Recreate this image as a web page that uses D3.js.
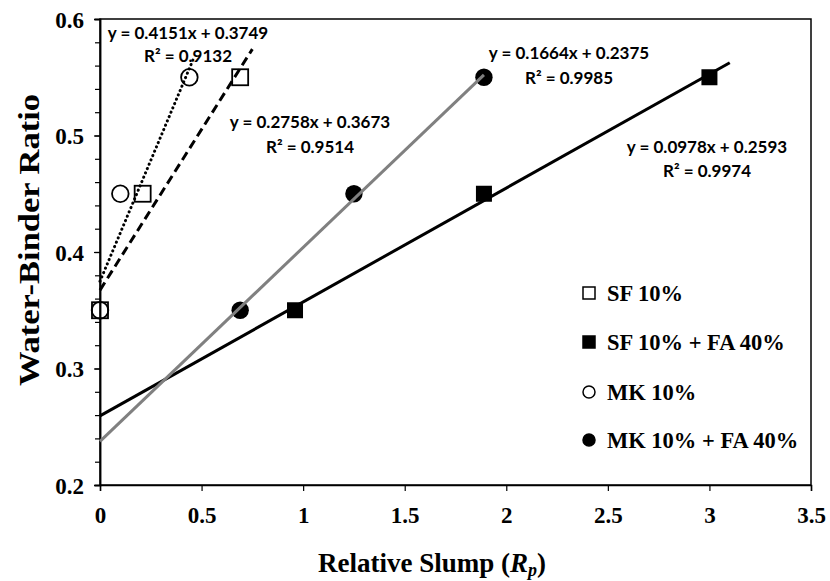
<!DOCTYPE html>
<html>
<head>
<meta charset="utf-8">
<script src="https://cdn.jsdelivr.net/npm/d3@7"></script>
<style>
  html, body { margin: 0; padding: 0; background: #fff; }
  svg { display: block; }
</style>
</head>
<body>
<svg id="chart" width="830" height="581"></svg>
<script>
// ---- data ----
const sfX = [0, 0.21, 0.69];
const sfY = [0.35, 0.45, 0.55];
const sfFaX = [0.96, 1.89, 3.0];
const sfFaY = [0.35, 0.45, 0.55];
const mkX = [0, 0.10, 0.44];
const mkY = [0.35, 0.45, 0.55];
const mkFaX = [0.69, 1.25, 1.89];
const mkFaY = [0.35, 0.45, 0.55];

// trendlines: [slope, intercept, xStart, xEnd]
const trendSF = [0.2758, 0.3673, 0, 0.75];
const trendMK = [0.4151, 0.3749, 0, 0.46];
const trendSFFA = [0.0978, 0.2593, 0, 3.1];
const trendMKFA = [0.1664, 0.2375, 0, 1.89];

const eqLabels = [
  ["y = 0.4151x + 0.3749", "R² = 0.9132"],
  ["y = 0.2758x + 0.3673", "R² = 0.9514"],
  ["y = 0.1664x + 0.2375", "R² = 0.9985"],
  ["y = 0.0978x + 0.2593", "R² = 0.9974"]
];
const legendLabels = ["SF 10%", "SF 10% + FA 40%", "MK 10%", "MK 10% + FA 40%"];
const xTicks = [0, 0.5, 1, 1.5, 2, 2.5, 3, 3.5];
const yTicks = [0.2, 0.3, 0.4, 0.5, 0.6];

// ---- layout ----
const svg = d3.select("#chart");
const L = 100, R = 811, T = 19, B = 485;
const x = d3.scaleLinear().domain([0, 3.5]).range([L, R]);
const y = d3.scaleLinear().domain([0.2, 0.6]).range([B, T]);
const serif = "'Liberation Serif', 'Times New Roman', serif";
const sans = "Lato, 'Liberation Sans', sans-serif";

// frame
svg.append("rect").attr("x", L).attr("y", T).attr("width", R - L).attr("height", B - T)
  .attr("fill", "none").attr("stroke", "#000").attr("stroke-width", 1.5);

// axes
const yAxis = d3.axisLeft(y).tickValues(yTicks).tickFormat(d3.format(".1f")).tickSize(6).tickPadding(10);
const yMinor = d3.axisLeft(y).tickValues(d3.range(0.2, 0.6001, 0.02)).tickFormat("").tickSize(5);
const xAxis = d3.axisBottom(x).tickValues(xTicks).tickFormat(d => d3.format("")(d)).tickSize(6).tickPadding(16);

const gyMinor = svg.append("g").attr("transform", `translate(${L},0)`).call(yMinor);
const gy = svg.append("g").attr("transform", `translate(${L},0)`).call(yAxis);
const gx = svg.append("g").attr("transform", `translate(0,${B})`).call(xAxis);
[gy, gx, gyMinor].forEach(g => {
  g.select(".domain").attr("stroke", "#000").attr("stroke-width", 1.5);
  g.selectAll(".tick line").attr("stroke", "#000").attr("stroke-width", 1.2);
  g.selectAll("text").attr("font-family", serif).attr("font-weight", "bold")
    .attr("font-size", 23).attr("fill", "#000");
});
gy.selectAll("text").attr("dy", "0.35em");

// axis titles
svg.append("text").attr("transform", `translate(29,240) rotate(-90) scale(1.15,1)`)
  .attr("text-anchor", "middle").attr("dominant-baseline", "central")
  .attr("font-family", serif).attr("font-weight", "bold").attr("font-size", 30)
  .text("Water-Binder Ratio");
const xt = svg.append("text").attr("x", 432).attr("y", 572)
  .attr("text-anchor", "middle")
  .attr("font-family", serif).attr("font-weight", "bold").attr("font-size", 27);
xt.append("tspan").text("Relative Slump (");
xt.append("tspan").attr("font-style", "italic").text("R");
xt.append("tspan").attr("font-style", "italic").attr("font-size", 18).attr("dy", 4).text("p");
xt.append("tspan").attr("dy", -4).text(")");

// markers
const pts = (xs, ys) => xs.map((v, i) => ({ x: v, y: ys[i] }));
const sq = 16, rc = 8.3;
svg.append("g").selectAll("rect").data(pts(sfX, sfY)).join("rect")
  .attr("x", d => x(d.x) - sq / 2).attr("y", d => y(d.y) - sq / 2)
  .attr("width", sq).attr("height", sq).attr("fill", "none").attr("stroke", "#000").attr("stroke-width", 1.8);
svg.append("g").selectAll("rect").data(pts(sfFaX, sfFaY)).join("rect")
  .attr("x", d => x(d.x) - sq / 2).attr("y", d => y(d.y) - sq / 2)
  .attr("width", sq).attr("height", sq).attr("fill", "#000");
svg.append("g").selectAll("circle").data(pts(mkX, mkY)).join("circle")
  .attr("cx", d => x(d.x)).attr("cy", d => y(d.y)).attr("r", rc)
  .attr("fill", "none").attr("stroke", "#000").attr("stroke-width", 1.8);
svg.append("g").selectAll("circle").data(pts(mkFaX, mkFaY)).join("circle")
  .attr("cx", d => x(d.x)).attr("cy", d => y(d.y)).attr("r", rc + 0.4)
  .attr("fill", "#000");

// trendlines
function trend(t, color, dash, cap) {
  const [m, b, x0, x1] = t;
  svg.append("line")
    .attr("x1", x(x0)).attr("y1", y(m * x0 + b))
    .attr("x2", x(x1)).attr("y2", y(m * x1 + b))
    .attr("stroke", color).attr("stroke-width", 3)
    .attr("stroke-dasharray", dash).attr("stroke-linecap", cap);
}
trend(trendSFFA, "#000", null, "butt");
trend(trendMKFA, "#808080", null, "butt");
trend(trendSF, "#000", "9,5", "butt");
trend(trendMK, "#000", "0.1,4.6", "round");

// equation labels
const eqPos = [[188, 32, 55], [310, 121, 146], [569, 52, 77], [707, 146, 170]];
eqLabels.forEach((lab, i) => {
  const [cx, y1, y2] = eqPos[i];
  [y1, y2].forEach((yy, j) => {
    svg.append("text").attr("x", cx).attr("y", yy).attr("text-anchor", "middle")
      .attr("dominant-baseline", "central")
      .attr("font-family", sans).attr("font-weight", "bold").attr("font-size", 17)
      .text(lab[j]);
  });
});

// legend
const legY = [293, 342, 392, 440];
const lg = svg.append("g");
legendLabels.forEach((lab, i) => {
  const cy = legY[i], mx = 589, s = 12;
  if (i < 2) {
    lg.append("rect").attr("x", mx - s / 2).attr("y", cy - s / 2).attr("width", s).attr("height", s)
      .attr("fill", i === 1 ? "#000" : "#fff").attr("stroke", "#000").attr("stroke-width", 1.5);
  } else {
    lg.append("circle").attr("cx", mx).attr("cy", cy).attr("r", s / 2)
      .attr("fill", i === 3 ? "#000" : "#fff").attr("stroke", "#000").attr("stroke-width", 1.5);
  }
  lg.append("text").attr("x", 607).attr("y", cy).attr("dominant-baseline", "central")
    .attr("font-family", serif).attr("font-weight", "bold").attr("font-size", 22.5)
    .text(lab);
});
</script>
</body>
</html>
